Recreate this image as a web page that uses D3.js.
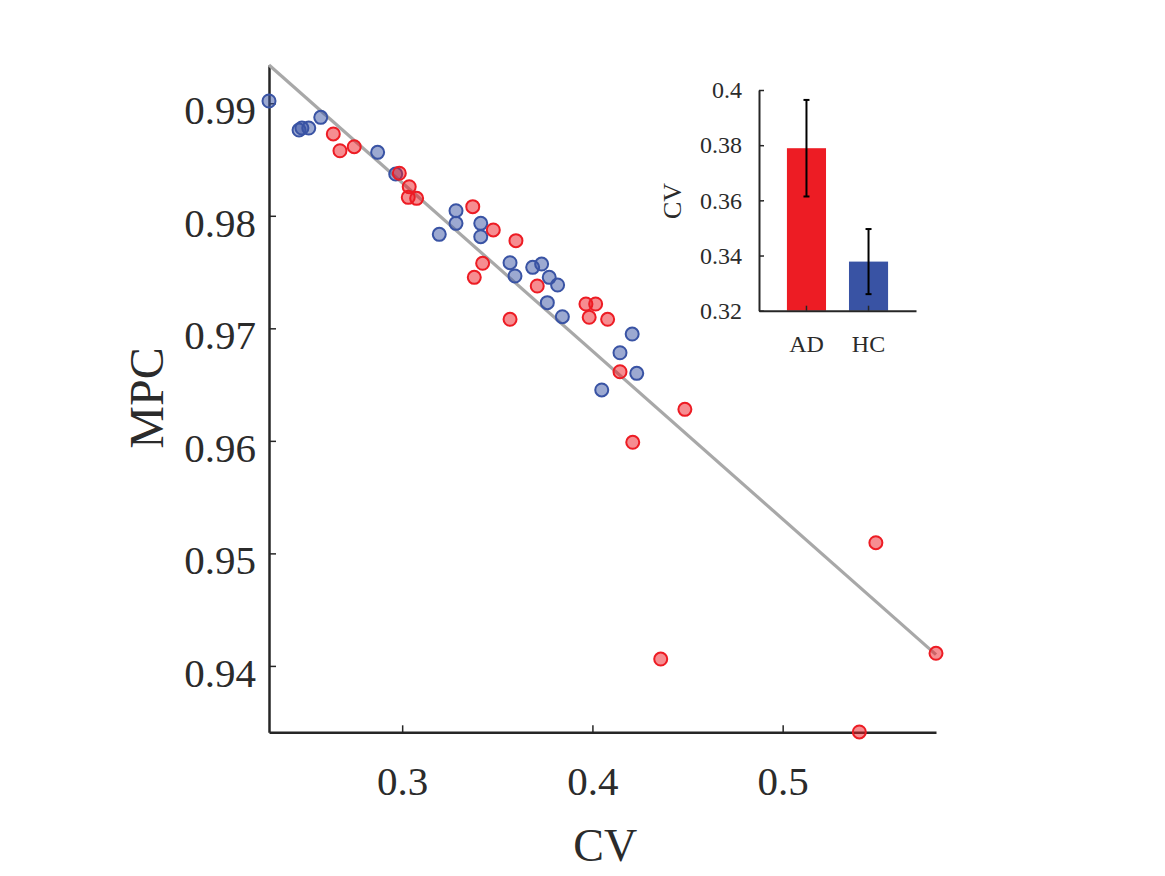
<!DOCTYPE html>
<html>
<head>
<meta charset="utf-8">
<script src="https://cdn.jsdelivr.net/npm/d3@7"></script>
<style>
  body{margin:0;background:#fff;}
  svg text{font-family:"Liberation Serif","Times New Roman",serif;fill:#2b2b2b;}
</style>
</head>
<body>
<div id="chart"></div>
<script>
// scatter data (CV, MPC) per group
var adCV  = [0.2638,0.2673,0.2748,0.2985,0.3037,0.3032,0.3076,0.3371,0.3479,0.3598,0.3423,0.3379,0.3710,
             0.3567,0.3966,0.4017,0.3983,0.4080,0.4145,0.4486,0.4212,0.5490,0.4359,0.5403,0.5806];
var adMPC = [0.98727,0.98578,0.98614,0.98378,0.98258,0.98164,0.98155,0.98081,0.97874,0.97779,0.97578,0.97453,0.97376,
             0.97080,0.97216,0.97216,0.97098,0.97080,0.96614,0.96280,0.95987,0.95095,0.94061,0.93413,0.94112];
var hcCV  = [0.2300,0.2458,0.2473,0.2509,0.2572,0.2871,0.2966,0.3195,0.3283,0.3283,0.3413,0.3413,
             0.3567,0.3593,0.3686,0.3733,0.3773,0.3817,0.3763,0.3842,0.4209,0.4145,0.4233,0.4049];
var hcMPC = [0.99020,0.98762,0.98780,0.98780,0.98875,0.98564,0.98371,0.97835,0.98045,0.97933,0.97933,0.97814,
             0.97583,0.97465,0.97542,0.97571,0.97453,0.97385,0.97228,0.97103,0.96949,0.96783,0.96600,0.96452];
// fitted line end points
var fitCV  = [0.2300,0.5806];
var fitMPC = [0.9934,0.9410];
var xTicks = [0.3,0.4,0.5];
var yTicks = [0.94,0.95,0.96,0.97,0.98,0.99];

// inset bar data
var groups   = ["AD","HC"];
var meanCV   = [0.3789,0.3378];
var errCV    = [0.0175,0.0118];
var barTicks = [0.32,0.34,0.36,0.38,0.4];

var color = {
    AD:"#ed1c24",
    HC:"#3953a4",
    axis:"#262626",
    fit:"#a8a8a8"
};

var width=1165, height=876;
var svg=d3.select("#chart").append("svg")
    .attr("width",width)
    .attr("height",height);

// main scatter
var x=d3.scaleLinear().domain([0.23,0.5806]).range([269,936]);
var y=d3.scaleLinear().domain([0.9341,0.9934]).range([732.3,65]);

var gx=svg.append("g")
    .attr("transform","translate(0,"+y.range()[0]+")")
    .call(d3.axisBottom(x).tickValues(xTicks).tickSizeInner(-7).tickSizeOuter(0).tickPadding(34).tickFormat(d3.format("")));
var gy=svg.append("g")
    .attr("transform","translate("+x.range()[0]+",0)")
    .call(d3.axisLeft(y).tickValues(yTicks).tickSizeInner(-7).tickSizeOuter(0).tickPadding(13).tickFormat(d3.format("")));

[gx,gy].forEach(function(g){
    g.select(".domain").attr("stroke",color.axis).attr("stroke-width",2.5);
    g.selectAll(".tick line").attr("stroke",color.axis).attr("stroke-width",1.5);
    g.selectAll(".tick text").style("font-size","41px").attr("fill","#2b2b2b");
});
gy.selectAll(".tick text").attr("dy","0.5em");

svg.append("text")
    .attr("x",x(0.3)+203)
    .attr("y",861)
    .attr("text-anchor","middle")
    .style("font-size","46px")
    .text("CV");
svg.append("text")
    .attr("transform","translate(163,398) rotate(-90)")
    .attr("text-anchor","middle")
    .style("font-size","48px")
    .text("MPC");

// regression line
svg.append("line")
    .attr("x1",x(fitCV[0])).attr("y1",y(fitMPC[0]))
    .attr("x2",x(fitCV[1])).attr("y2",y(fitMPC[1]))
    .attr("stroke",color.fit)
    .attr("stroke-width",3.2);

function drawDots(cv,mpc,c){
    svg.append("g").selectAll("circle")
        .data(cv)
        .enter().append("circle")
        .attr("cx",function(d){return x(d);})
        .attr("cy",function(d,i){return y(mpc[i]);})
        .attr("r",6.5)
        .attr("fill",c)
        .attr("fill-opacity",0.5)
        .attr("stroke",c)
        .attr("stroke-width",2);
}
drawDots(hcCV,hcMPC,color.HC);
drawDots(adCV,adMPC,color.AD);

// inset bar chart
var bx=d3.scaleBand().domain(groups).range([759,916]).paddingInner(0.37).paddingOuter(0.45);
var by=d3.scaleLinear().domain([0.32,0.4]).range([310.7,90]);

var bars=svg.append("g");
bars.selectAll("rect")
    .data(groups)
    .enter().append("rect")
    .attr("x",function(d){return bx(d);})
    .attr("width",bx.bandwidth())
    .attr("y",function(d,i){return by(meanCV[i]);})
    .attr("height",function(d,i){return by.range()[0]-by(meanCV[i]);})
    .attr("fill",function(d){return color[d];});

var gbx=svg.append("g")
    .attr("transform","translate(0,"+by.range()[0]+")")
    .call(d3.axisBottom(bx).tickSizeInner(-5).tickSizeOuter(0).tickPadding(24));
var gby=svg.append("g")
    .attr("transform","translate("+bx.range()[0]+",0)")
    .call(d3.axisLeft(by).tickValues(barTicks).tickSizeInner(-5).tickSizeOuter(0).tickPadding(17).tickFormat(d3.format("")));
[gbx,gby].forEach(function(g){
    g.select(".domain").attr("stroke",color.axis).attr("stroke-width",2);
    g.selectAll(".tick line").attr("stroke",color.axis).attr("stroke-width",1.5);
    g.selectAll(".tick text").style("font-size","24px").attr("fill","#2b2b2b");
});

// error bars
var eb=svg.append("g").attr("stroke","#000").attr("stroke-width",2);
groups.forEach(function(g,i){
    var cx=bx(g)+bx.bandwidth()/2;
    eb.append("line").attr("x1",cx).attr("x2",cx)
        .attr("y1",by(meanCV[i]+errCV[i])).attr("y2",by(meanCV[i]-errCV[i]));
    eb.append("line").attr("x1",cx-3).attr("x2",cx+3)
        .attr("y1",by(meanCV[i]+errCV[i])).attr("y2",by(meanCV[i]+errCV[i]));
    eb.append("line").attr("x1",cx-3).attr("x2",cx+3)
        .attr("y1",by(meanCV[i]-errCV[i])).attr("y2",by(meanCV[i]-errCV[i]));
});

svg.append("text")
    .attr("transform","translate(681,201) rotate(-90)")
    .attr("text-anchor","middle")
    .style("font-size","26px")
    .text("CV");
</script>
</body>
</html>
